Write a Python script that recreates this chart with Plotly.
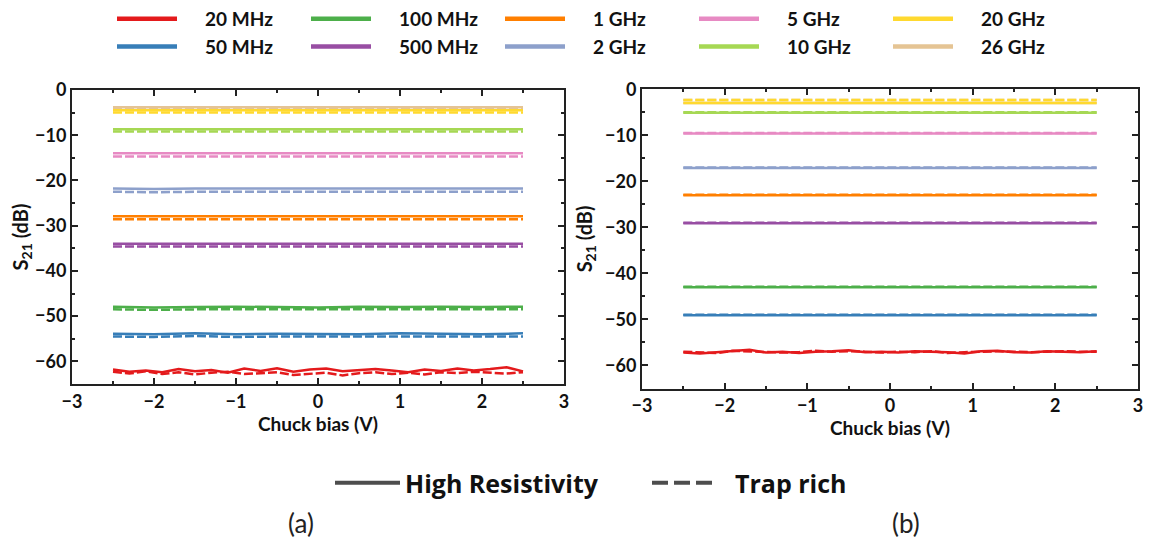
import plotly.graph_objects as go

freq_labels = ["20 MHz", "50 MHz", "100 MHz", "500 MHz", "1 GHz",
               "2 GHz", "5 GHz", "10 GHz", "20 GHz", "26 GHz"]
freq_colors = ["#e41a1c", "#377eb8", "#4daf4a", "#984ea3", "#ff7f00",
               "#8da0cb", "#e78ac3", "#a6d854", "#ffd92f", "#e5c494"]
legend_order = [0, 2, 4, 6, 8, 1, 3, 5, 7, 9]

bias_fine = [-2.5, -2.3, -2.1, -1.9, -1.7, -1.5, -1.3, -1.1, -0.9, -0.7, -0.5, -0.3, -0.1,
             0.1, 0.3, 0.5, 0.7, 0.9, 1.1, 1.3, 1.5, 1.7, 1.9, 2.1, 2.3, 2.5]
bias_coarse = [-2.5, -2.0, -1.5, -1.0, -0.5, 0.0, 0.5, 1.0, 1.5, 2.0, 2.5]

# (a) S21 in dB, high resistivity (solid)
a_high_res = [
    [-61.8, -62.3, -62.0, -62.4, -61.7, -62.2, -61.9, -62.5, -61.6, -62.1, -61.5, -62.3, -61.8,
     -61.6, -62.2, -61.9, -61.7, -62.0, -62.4, -61.8, -62.1, -61.6, -62.0, -61.7, -61.3, -62.2],
    [-53.9, -54.0, -53.8, -54.0, -53.9, -53.9, -54.0, -53.8, -53.9, -54.0, -53.8],
    [-47.9, -48.1, -48.0, -47.9, -48.0, -48.1, -47.9, -48.0, -47.9, -48.0, -47.9],
    [-34.0, -34.0, -34.0, -33.9, -34.0, -34.0, -34.0, -33.9, -34.0, -34.0, -34.0],
    [-27.9, -27.9, -28.0, -27.9, -27.9, -27.9, -28.0, -27.9, -27.9, -27.9, -27.9],
    [-21.8, -21.9, -21.8, -21.8, -21.9, -21.8, -21.8, -21.9, -21.8, -21.8, -21.8],
    [-14.0, -14.0, -14.0, -14.0, -14.0, -14.0, -14.0, -14.0, -14.0, -14.0, -14.0],
    [-8.7, -8.7, -8.7, -8.7, -8.7, -8.7, -8.7, -8.7, -8.7, -8.7, -8.7],
    [-4.5, -4.5, -4.5, -4.5, -4.5, -4.5, -4.5, -4.5, -4.5, -4.5, -4.5],
    [-3.8, -3.8, -3.8, -3.8, -3.8, -3.8, -3.8, -3.8, -3.8, -3.8, -3.8],
]
# (a) S21 in dB, trap rich (dashed)
a_trap_rich = [
    [-62.3, -62.7, -62.2, -62.8, -62.4, -62.9, -62.5, -62.3, -62.8, -62.6, -62.4, -63.0, -62.7,
     -62.5, -63.1, -62.6, -62.4, -62.8, -62.5, -62.9, -62.4, -62.6, -62.3, -62.5, -62.7, -62.4],
    [-54.5, -54.6, -54.4, -54.6, -54.5, -54.5, -54.6, -54.5, -54.5, -54.6, -54.5],
    [-48.5, -48.6, -48.5, -48.5, -48.6, -48.5, -48.5, -48.6, -48.5, -48.5, -48.5],
    [-34.6, -34.6, -34.6, -34.6, -34.6, -34.6, -34.6, -34.6, -34.6, -34.6, -34.6],
    [-28.6, -28.6, -28.6, -28.6, -28.6, -28.6, -28.6, -28.6, -28.6, -28.6, -28.6],
    [-22.5, -22.6, -22.5, -22.5, -22.6, -22.5, -22.5, -22.5, -22.6, -22.5, -22.5],
    [-14.7, -14.7, -14.7, -14.7, -14.7, -14.7, -14.7, -14.7, -14.7, -14.7, -14.7],
    [-9.2, -9.2, -9.2, -9.2, -9.2, -9.2, -9.2, -9.2, -9.2, -9.2, -9.2],
    [-5.0, -5.0, -5.0, -5.0, -5.0, -5.0, -5.0, -5.0, -5.0, -5.0, -5.0],
    [-4.2, -4.2, -4.2, -4.2, -4.2, -4.2, -4.2, -4.2, -4.2, -4.2, -4.2],
]
# (b) S21 in dB, high resistivity (solid)
b_high_res = [
    [-57.2, -57.4, -57.1, -56.9, -56.6, -57.2, -57.0, -57.3, -57.0, -56.9, -56.7, -57.1, -57.0,
     -57.2, -56.9, -57.0, -57.1, -57.4, -56.9, -56.8, -57.1, -57.2, -56.9, -57.0, -57.1, -56.9],
    [-49.1, -49.1, -49.0, -49.1, -49.1, -49.1, -49.1, -49.0, -49.1, -49.1, -49.1],
    [-43.0, -43.0, -43.0, -42.9, -43.0, -43.0, -43.0, -43.0, -43.0, -43.0, -43.0],
    [-29.1, -29.1, -29.1, -29.1, -29.1, -29.1, -29.1, -29.1, -29.1, -29.1, -29.1],
    [-23.0, -23.0, -23.0, -23.0, -23.0, -23.0, -22.9, -22.9, -23.0, -23.0, -23.0],
    [-17.1, -17.1, -17.1, -17.1, -17.1, -17.1, -17.1, -17.1, -17.1, -17.1, -17.1],
    [-9.6, -9.6, -9.6, -9.6, -9.6, -9.6, -9.6, -9.6, -9.6, -9.6, -9.6],
    [-5.1, -5.1, -5.1, -5.1, -5.1, -5.1, -5.1, -5.1, -5.1, -5.1, -5.1],
    [-3.0, -3.0, -3.0, -3.0, -3.0, -3.0, -3.0, -3.0, -3.0, -3.0, -3.0],
    [-3.0, -3.0, -3.0, -3.0, -3.0, -3.0, -3.0, -3.0, -3.0, -3.0, -3.0],
]
# (b) S21 in dB, trap rich (dashed)
b_trap_rich = [
    [-57.0, -57.2, -57.3, -56.8, -56.9, -57.0, -57.2, -57.1, -56.8, -57.0, -56.9, -57.0, -57.2,
     -57.0, -57.1, -56.9, -57.3, -57.1, -57.0, -56.9, -57.0, -57.1, -57.0, -56.9, -57.0, -57.0],
    [-49.0, -49.0, -49.0, -49.0, -49.0, -49.0, -49.0, -49.0, -49.0, -49.0, -49.0],
    [-42.9, -42.9, -42.9, -42.9, -42.9, -42.9, -42.9, -42.9, -42.9, -42.9, -42.9],
    [-29.0, -29.0, -29.0, -29.0, -29.0, -29.0, -29.0, -29.0, -29.0, -29.0, -29.0],
    [-22.9, -22.9, -22.9, -22.9, -22.9, -22.9, -22.9, -22.9, -22.9, -22.9, -22.9],
    [-17.0, -17.0, -17.0, -17.0, -17.0, -17.0, -17.0, -17.0, -17.0, -17.0, -17.0],
    [-9.5, -9.5, -9.5, -9.5, -9.5, -9.5, -9.5, -9.5, -9.5, -9.5, -9.5],
    [-5.0, -5.0, -5.0, -5.0, -5.0, -5.0, -5.0, -5.0, -5.0, -5.0, -5.0],
    [-2.3, -2.3, -2.3, -2.3, -2.3, -2.3, -2.3, -2.3, -2.3, -2.3, -2.3],
    [-2.3, -2.3, -2.3, -2.3, -2.3, -2.3, -2.3, -2.3, -2.3, -2.3, -2.3],
]

x_ticks = [-3, -2, -1, 0, 1, 2, 3]
y_ticks = [0, -10, -20, -30, -40, -50, -60]
material_labels = ["High Resistivity", "Trap rich"]
panel_labels = ["(a)", "(b)"]

FONT = "Lato"
DASH = "9px,3px"
NB = "\u00a0"

fig = go.Figure()

# draw 26 GHz first so 20 GHz sits on top
draw_order = [9, 0, 1, 2, 3, 4, 5, 6, 7, 8]
for xa, ya, hr, tr in [("x", "y", a_high_res, a_trap_rich), ("x2", "y2", b_high_res, b_trap_rich)]:
    for i in draw_order:
        for vals, dash in [(tr, DASH), (hr, "solid")]:
            xs = bias_fine if len(vals[i]) == len(bias_fine) else bias_coarse
            fig.add_trace(go.Scatter(
                x=xs, y=vals[i], mode="lines", xaxis=xa, yaxis=ya,
                line=dict(color=freq_colors[i], width=2.5, dash=dash),
                showlegend=False, hoverinfo="skip"))

# frequency legend entries
for rank, i in enumerate(legend_order):
    fig.add_trace(go.Scatter(
        x=[None], y=[None], mode="lines", name=NB * 5 + freq_labels[i],
        line=dict(color=freq_colors[i], width=4.5),
        legend="legend", legendrank=rank + 1))

# material legend entries
for k, name in enumerate(material_labels):
    fig.add_trace(go.Scatter(
        x=[None], y=[None], mode="lines", name=(NB * 2 if k == 1 else "") + name,
        line=dict(color="#4d4d4d", width=4, dash="solid" if k == 0 else "16px,6px"),
        legend="legend2", legendrank=k + 1))

# page body has an 8px margin on every side: keep the figure inside the window
OFF = 8
W, H = 1153 - 2 * OFF, 548 - 2 * OFF
T = 52
PB = 438           # figure pixel row of plot-area bottom
B = H - PB
PH = H - T - B


def fx(px):
    return (px - OFF) / W


def fy(py):
    return (PB - (py - OFF)) / PH


axis_common = dict(
    showline=True, linecolor="#222", linewidth=2, mirror="allticks",
    ticks="inside", ticklen=6, tickwidth=2, tickcolor="#222",
    showgrid=False, zeroline=False, automargin=False,
    tickfont=dict(family=FONT, size=18, color="#111", weight="bold"),
)
minor_common = dict(ticks="inside", ticklen=3, tickwidth=1.5, tickcolor="#222", showgrid=False)
xcommon = dict(axis_common, range=[-3, 3], tickvals=x_ticks,
               minor=dict(minor_common, dtick=0.5, tick0=0),
               title=dict(text="Chuck bias (V)", standoff=0,
                          font=dict(family=FONT, size=19, color="#111", weight="bold")))
ycommon = dict(axis_common, range=[-65, 0], tickvals=y_ticks,
               minor=dict(minor_common, dtick=5, tick0=0),
               title=dict(text="S<sub>21</sub> (dB)", standoff=7,
                          font=dict(family=FONT, size=20, color="#111", weight="bold")))

fig.update_layout(
    width=W, height=H, margin=dict(l=0, r=0, t=T, b=B, autoexpand=False),
    plot_bgcolor="white", paper_bgcolor="white",
    xaxis=dict(xcommon, domain=[fx(72), fx(564)], anchor="y"),
    yaxis=dict(ycommon, domain=[fy(384), fy(90)], anchor="x"),
    xaxis2=dict(xcommon, domain=[fx(642), fx(1138)], anchor="y2"),
    yaxis2=dict(ycommon, domain=[fy(388.5), fy(89.3)], anchor="x2"),
    legend=dict(orientation="h", x=fx(112), y=fy(0), xanchor="left", yanchor="top",
                entrywidth=119, entrywidthmode="pixels", itemwidth=60,
                font=dict(family=FONT, size=19, color="#111", weight="bold"),
                bgcolor="rgba(0,0,0,0)", traceorder="normal"),
    legend2=dict(orientation="h", x=fx(330), y=fy(483), xanchor="left", yanchor="middle",
                 entrywidth=237, entrywidthmode="pixels", itemwidth=65,
                 font=dict(family="Open Sans", size=25, color="#111", weight="bold"),
                 bgcolor="rgba(0,0,0,0)"),
    annotations=[
        dict(text=panel_labels[0], x=fx(301), y=fy(523), xref="paper", yref="paper",
             xanchor="center", yanchor="middle",
             showarrow=False, font=dict(family=FONT, size=26, color="#222")),
        dict(text=panel_labels[1], x=fx(906), y=fy(523), xref="paper", yref="paper",
             xanchor="center", yanchor="middle",
             showarrow=False, font=dict(family=FONT, size=26, color="#222")),
    ],
)

fig.write_html("out.html")
